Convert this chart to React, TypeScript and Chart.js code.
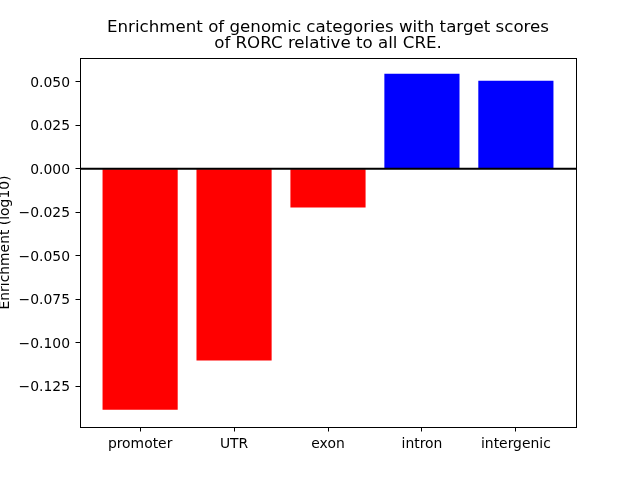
import React, { useEffect, useRef } from "react";
import { Chart, registerables } from "chart.js";

Chart.register(...registerables);

const categories = ["promoter", "UTR", "exon", "intron", "intergenic"];
const enrichment = [-0.1384, -0.1101, -0.0222, 0.0546, 0.0505];
const yTicks = [-0.125, -0.1, -0.075, -0.05, -0.025, 0, 0.025, 0.05];
const yMin = -0.1483;
const yMax = 0.0636;
const xMin = -0.64;
const xMax = 4.64;
const titleLines = [
  "Enrichment of genomic categories with target scores",
  "of RORC relative to all CRE.",
];
const yLabel = "Enrichment (log10)";

const FONT = "'DejaVu Sans', sans-serif";

const framePlugin = {
  id: "frame",
  afterDatasetsDraw(chart: any) {
    const { ctx, chartArea, scales } = chart;
    const y0 = scales.y.getPixelForValue(0);
    ctx.save();
    ctx.strokeStyle = "#000";
    ctx.lineWidth = 2;
    ctx.beginPath();
    ctx.moveTo(chartArea.left, y0);
    ctx.lineTo(chartArea.right, y0);
    ctx.stroke();
    ctx.lineWidth = 1;
    ctx.strokeRect(
      Math.round(chartArea.left) + 0.5,
      Math.round(chartArea.top) + 0.5,
      Math.round(chartArea.right - chartArea.left),
      Math.round(chartArea.bottom - chartArea.top)
    );
    ctx.restore();
  },
};

export default function App() {
  const ref = useRef<HTMLCanvasElement | null>(null);

  useEffect(() => {
    if (!ref.current) return;
    const chart = new Chart(ref.current, {
      type: "bar",
      data: {
        datasets: [
          {
            data: enrichment.map((v, i) => ({ x: i, y: v })),
            backgroundColor: enrichment.map((v) => (v < 0 ? "#ff0000" : "#0000ff")),
            borderWidth: 0,
            barPercentage: 0.8,
            categoryPercentage: 1.0,
          },
        ],
      },
      options: {
        responsive: false,
        animation: false,
        layout: { padding: { left: 0, right: 64, top: 0, bottom: 0 } },
        plugins: {
          legend: { display: false },
          tooltip: { enabled: false },
          title: {
            display: true,
            fullSize: false,
            text: titleLines,
            color: "#000",
            font: { family: FONT, size: 16.67, weight: "normal", lineHeight: 0.98 },
            padding: { top: 19.6, bottom: 5.7 },
          },
        },
        scales: {
          x: {
            type: "linear",
            min: xMin,
            max: xMax,
            offset: false,
            afterFit: (s: any) => {
              s.height = 53;
            },
            afterBuildTicks: (s: any) => {
              s.ticks = categories.map((_, i) => ({ value: i }));
            },
            border: { display: false },
            grid: {
              display: true,
              offset: false,
              drawOnChartArea: false,
              drawTicks: true,
              tickLength: 4.5,
              tickColor: "#000",
              tickWidth: 1,
            },
            ticks: {
              autoSkip: false,
              maxRotation: 0,
              padding: 4.4,
              color: "#000",
              font: { family: FONT, size: 13.9 },
              callback: (v: any) => categories[v as number] ?? "",
            },
          },
          y: {
            type: "linear",
            min: yMin,
            max: yMax,
            afterFit: (s: any) => {
              s.width = 80;
            },
            afterBuildTicks: (s: any) => {
              s.ticks = yTicks.map((v) => ({ value: v }));
            },
            border: { display: false },
            grid: {
              display: true,
              drawOnChartArea: false,
              drawTicks: true,
              tickLength: 4.5,
              tickColor: "#000",
              tickWidth: 1,
            },
            title: {
              display: true,
              text: yLabel,
              color: "#000",
              font: { family: FONT, size: 13.9 },
              padding: { top: -3, bottom: 0 },
            },
            ticks: {
              padding: 5.5,
              color: "#000",
              font: { family: FONT, size: 13.9, lineHeight: 0.2 },
              callback: (v: any) => {
                const n = Number(v);
                const s = Math.abs(n).toFixed(3);
                return ["", n < -1e-9 ? "\u2212" + s : s];
              },
            },
          },
        },
      },
      plugins: [framePlugin],
    } as any);
    return () => chart.destroy();
  }, []);

  return (
    <div style={{ position: "absolute", left: 0, top: 0, width: 640, height: 480, background: "#fff" }}>
      <canvas ref={ref} width={640} height={480} style={{ display: "block" }} />
    </div>
  );
}
